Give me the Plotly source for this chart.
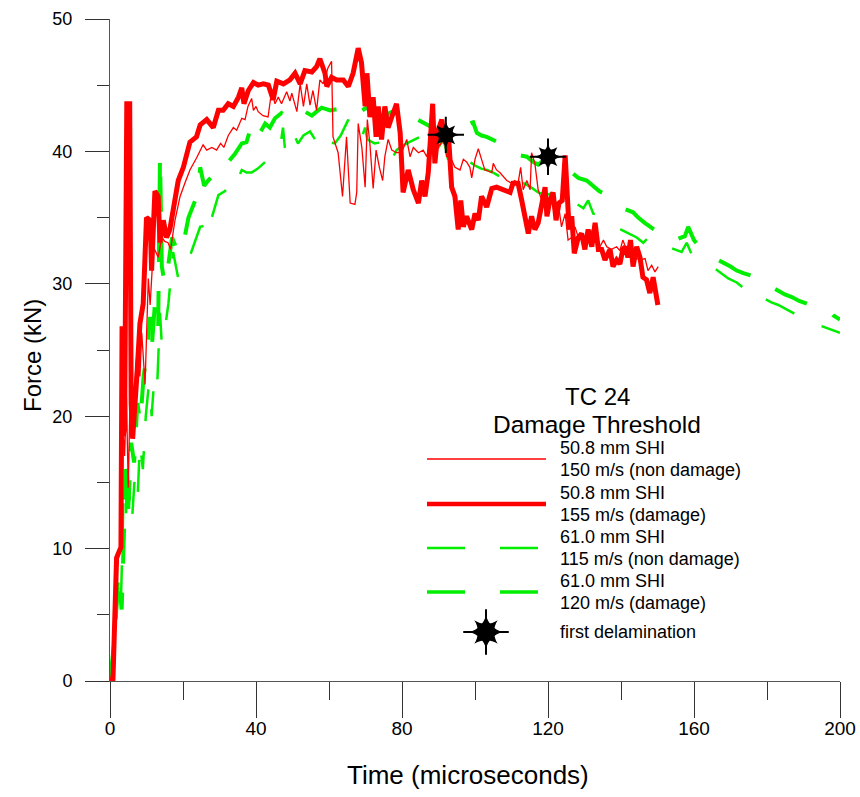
import plotly.graph_objects as go

# ---------------- data ----------------
# 50.8 mm SHI, 150 m/s (non damage)  -- thin red
r150_t = [0, 1, 2, 3, 3.5, 4, 4.5, 5, 5.5, 6.4, 7.3, 8.2, 8.7, 9.1, 9.6, 10.5, 11, 11.9, 13.2, 14.2, 15,
          15.9, 16.6, 17.8, 19.2, 20.5, 21.9, 23.7, 25.5, 26.5, 27.9, 29.2, 30.3, 31.2, 32.4, 33.8, 34.7,
          36.1, 37, 37.8, 38.8, 39.3, 40, 40.6, 41.9, 43.3, 44.3, 45.2, 46.1, 47, 48.4, 49.3, 49.8, 51.2,
          52.1, 53, 53.9, 54.8, 55.6, 56.6, 57.5, 58.4, 59.7, 60.7, 61.1, 62.5, 63.7, 64.8, 65.8, 67.1,
          67.6, 68, 69, 69.9, 70.5, 71.2, 72.1, 72.9, 73.8, 74.7, 75.3, 76.2, 77.2, 78.5, 79.9, 81.3, 82.2,
          83.1, 84.5, 85.8, 86.8, 87.7, 88.5, 89.5, 90.5, 91.5, 92.2, 93.2, 94.5, 95.9, 96.8, 97.7, 98.6,
          99.1, 100, 100.9, 101.8, 102.7, 103.7, 104.6, 105, 105.9, 106.8, 107.8, 108.7, 110, 110.9, 111.8,
          112.5, 113.2, 114.2, 115.1, 115.5, 116.4, 117.3, 118.3, 119.2, 120, 121, 121.9, 122.8, 123.7,
          124.7, 125.5, 126.5, 127.4, 128.3, 129.2, 130.1, 131.5, 132.4, 133.3, 134.2, 135.2, 136.1, 137.4,
          138.8, 139.7, 140.5, 141.5, 143.8, 145.2, 146.6, 147.4, 148.4, 149.3, 150.2]
r150_f = [0, 1, 8.5, 11, 19.5, 17, 21.5, 14.6, 21.5, 20.9, 24.5, 23, 26.3, 24.5, 22.4, 30.4, 28.4, 32.8, 32,
          33.5, 33.2, 33.1, 32.6, 34.8, 36.6, 37.6, 38.6, 39.5, 40.5, 40.1, 40.3, 40.1, 40.6, 40.3, 41.2,
          41.8, 41.6, 42.5, 42.4, 43.4, 44, 43.1, 43.4, 43, 42.7, 42.6, 44.6, 43.6, 44.1, 43.6, 44.5, 43.8,
          44.4, 43, 45.1, 43.4, 45.1, 43.5, 44.6, 43.1, 45.4, 45.1, 46.3, 46.8, 41.1, 39.9, 36.6, 41.1,
          36.1, 36, 36.9, 42.1, 40.3, 37.3, 42.4, 40.6, 37.2, 40.1, 38.8, 37.8, 39.6, 40.9, 40.1, 39.9,
          39.9, 40.9, 39.6, 40.3, 39.9, 40.1, 39.6, 40.9, 40.6, 40.3, 40.5, 41.2, 39.6, 39.6, 38.8, 38.6,
          39.4, 39.2, 38.8, 38, 39.4, 40.2, 39.4, 38.6, 38.5, 38.4, 39.1, 38.6, 38.4, 38.1, 37.8, 37.6,
          37.8, 37.6, 38.8, 37.1, 37.8, 37.1, 39.9, 39.1, 37.1, 36.3, 35.6, 35.3, 36.3, 35.1, 36.1, 34.3,
          35.3, 33.3, 33.5, 34.3, 33.5, 33.5, 33.1, 33.5, 34.3, 33.5, 32.8, 33.3, 32.8, 32.6, 32.8, 32.5,
          33.3, 32.6, 32, 31.8, 31.9, 31, 31.4, 30.9, 31.3]

# 50.8 mm SHI, 155 m/s (damage)  -- thick red
r155_t = [0, 0.8, 1.8, 3.0, 3.3, 3.6, 4.0, 4.6, 5.4, 5.8, 6.2, 6.6, 7.4, 8.2, 9.1, 10, 11, 11.4, 12.3, 13.2,
          13.7, 14.6, 15.5, 16.4, 17.8, 18.7, 20.1, 21.9, 23.7, 24.7, 26.5, 28.3, 29.7, 31, 32.4, 33.8,
          35.2, 36.1, 36.7, 37.9, 39.3, 40.6, 42, 43.4, 44.7, 45.7, 47.5, 49.3, 50.7, 52.1, 53.4, 55.3,
          56.6, 57.5, 58.9, 59.4, 60.7, 62.1, 63.9, 65.3, 66.6, 68, 68.9, 69.9, 70.4, 71.2, 72.1, 72.9,
          73.5, 74.4, 75.3, 76.2, 77.2, 78.5, 79.5, 80.3, 81.7, 83.1, 84.5, 85.4, 86.3, 87.2, 88.4, 89,
          89.9, 90.9, 91.8, 92.7, 93.6, 94.5, 95.4, 96.1, 96.8, 97.7, 99.1, 100, 100.9, 101.8, 103.2,
          104.6, 105.9, 107.8, 109.6, 110.4, 111.8, 112.8, 113.7, 114.6, 115.5, 116.4, 117.3, 118.3,
          119.2, 119.7, 120.5, 121.4, 122.2, 123, 123.9, 124.7, 125.3, 125.8, 126.5, 127.2, 128.3, 129.2,
          130.1, 131, 132, 132.9, 133.8, 134.7, 135.6, 137, 137.8, 138.8, 139.7, 140.5, 141.1, 141.9,
          142.6, 143.3, 144.3, 145.2, 146, 147, 147.9, 148.8, 150.1]
r155_f = [0, 0, 9.3, 10.1, 26.8, 18.5, 19, 43.6, 43.6, 21, 18.3, 20.5, 23.2, 27, 28.5, 35, 34.8, 31, 37,
          36.6, 33.1, 34.8, 33.5, 34.1, 36.6, 37.8, 38.8, 40.7, 41.1, 42, 42.4, 41.8, 43.1, 43.1, 43.6,
          43.4, 44.1, 44.8, 43.6, 44.6, 45.2, 45, 45.1, 45, 43.9, 45.3, 45.1, 45.4, 45.9, 45.1, 46.1, 46,
          46.4, 47, 45.9, 44.9, 45.6, 45.4, 45.4, 44.9, 45.9, 47.8, 46.7, 43.4, 45.9, 42.6, 44.1, 41.1,
          43.4, 40.9, 43.4, 41.8, 42.6, 43.6, 41.4, 36.9, 38.6, 37.1, 36.1, 37.8, 36.6, 38.4, 43.6, 39.1,
          41.6, 42.4, 40.6, 41.4, 37.3, 36.6, 34.1, 36.3, 34.3, 35.1, 34.1, 35.3, 34.8, 36.6, 35.8, 37.2,
          37.3, 37.1, 36.9, 37.6, 37.6, 36.3, 35.1, 33.8, 35.1, 34.1, 34.6, 35.8, 37.3, 35.1, 36.3, 36.9,
          34.8, 36.1, 36.3, 39.7, 37.1, 34.1, 35.1, 32.3, 33.5, 33.8, 32.6, 34.1, 32.8, 34.6, 32.6, 32.6,
          31.8, 32.6, 31.3, 31.8, 31.5, 32.6, 32.8, 32, 33.3, 31.3, 32.8, 32, 30.5, 30.3, 29.3, 30.5, 28.4]

# 61.0 mm SHI, 115 m/s (non damage)  -- thin green dashed
g115_t = [0, 0.8, 1.6, 2.4, 3, 3.7, 4.4, 4.6, 5.2, 6, 6.8, 7.6, 8.2, 9, 9.8, 10.5, 11, 11.4, 12.3, 13, 13.7,
          14.2, 15, 16, 17.3, 18.7, 20.1, 21.5, 23.3, 24.7, 26, 26.5, 27.9, 29.7, 31.5, 33.8, 34.7, 36.1,
          37.4, 38.8, 40.5, 42.5, 44.3, 46.6, 47.4, 47.9, 48.4, 49.8, 50.7, 51.5, 53, 54.8, 56.2, 57.1,
          58.4, 60, 61.6, 63.2, 65.3, 65.8, 67.6, 69, 69.9, 70.5, 72.5, 74.5, 76.7, 77.6, 78.5, 80, 82,
          84.9, 85.8, 86.8, 88.3, 90, 91.3, 92, 93, 94.1, 95.9, 97.3, 98.6, 100.2, 101.7, 103.3, 105,
          106.8, 108.2, 109.6, 111.3, 113.3, 115.3, 117.3, 119.6, 121.4, 123.3, 125.1, 127, 128.5, 129.7,
          131, 132.4, 134.2, 136, 138, 140, 141.5, 144.3, 146.1, 147.5, 148.8, 150.7, 152.7, 154.7, 156.6,
          158, 159.4, 161.6, 163.5, 165.5, 167.5, 169.4, 171.7, 173.5, 174.4, 175.3, 177.2, 179.2, 181.2,
          183.1, 187.2, 191.8, 194, 196, 198, 200]
g115_f = [0, 1.5, 4, 7.5, 6, 13.7, 12.2, 16.7, 14.3, 12, 15.5, 14, 18, 16, 20, 22, 22.4, 20, 23.5, 22.8,
          27.8, 25.4, 26.5, 28.5, 32.4, 30.4, 30.7, 31.8, 33.3, 34.3, 34.4, 35.7, 35, 36.7, 37, 38.1, 37.7,
          38.6, 38.4, 38.4, 38.7, 39.2, 39.5, 40.3, 41.8, 40.3, 39.7, 40.9, 41.1, 40.6, 41.2, 41.5, 40.9,
          41.6, 40.9, 40.7, 40.6, 41.2, 42.4, 41.4, 40.9, 41.1, 41.8, 40.9, 40.6, 40.7, 40.9, 39.6, 40.1,
          40.4, 40.7, 41.1, 40.3, 39.9, 40, 40.3, 40.9, 40.2, 38.9, 38.7, 38.7, 39, 39.2, 38.9, 38.7, 38.6,
          38.4, 38.1, 38.4, 37.8, 37.7, 37.6, 37.3, 36.9, 36.7, 36.9, 36.9, 36.6, 36.2, 35.9, 35.7, 36.3,
          35.3, 35.2, 34.8, 34.4, 34.1, 33.9, 33.5, 33.1, 33.5, 33, 32.9, 32.8, 32.6, 32.4, 33.1, 32.2,
          32, 31.6, 31.2, 30.8, 30.4, 30.1, 29.7, 29.9, 29.5, 29.2, 28.9, 28.6, 28.4, 27.8, 27.1, 26.9,
          26.7, 26.5, 26.3]

# 61.0 mm SHI, 120 m/s (damage)  -- thick green dashed
g120_t = [0, 1, 2.3, 3.2, 3.8, 4.4, 5, 5.8, 6.6, 7.5, 8.3, 9.2, 10, 11, 11.4, 12.3, 13.2, 13.7, 14.2, 15, 16,
          17, 18, 19.6, 21.5, 23, 24.2, 24.7, 25.8, 26.9, 27.9, 28.8, 30.1, 32.4, 34.2, 36.1, 37.4, 38.8,
          40.2, 41.5, 42.5, 43.8, 45.2, 47, 48.4, 50, 51.5, 52.8, 53.9, 55.3, 56.6, 58, 60.3, 62.5, 64.8,
          66.7, 68.5, 70.3, 72, 74, 76, 78, 79.9, 81, 82.2, 83.6, 85, 87, 89, 90.8, 92.7, 94.1, 95.4, 97,
          98.5, 99.5, 100.5, 101.8, 103.2, 105, 107, 108.8, 110.5, 112.3, 114.2, 116, 117.3, 118.7, 120,
          121.5, 123.3, 125.1, 126.5, 128.3, 130.6, 132.3, 134, 135.5, 137, 139.3, 140.6, 143.3, 144.7,
          146.5, 148.5, 150.3, 152.1, 153.4, 154.8, 157.5, 158.4, 160, 162, 163.9, 166.2, 168, 170, 171.7,
          173.5, 175.5, 177.2, 179, 181.7, 184.9, 186.8, 188.8, 191, 193.2, 195.4, 197.3, 198.2, 200]
g120_f = [0, 2.5, 8.2, 5.4, 11, 16, 13, 18, 16.5, 21, 19.5, 23, 24.5, 27.5, 25, 28.5, 26.7, 39.7, 31.3, 30,
          31.5, 33.5, 32.8, 32.3, 35, 36, 36.9, 38.8, 37.4, 37.8, 38.1, 38.8, 38.7, 39.2, 39.8, 40.6, 40.7,
          42, 41.1, 41.6, 42.1, 41.8, 42.5, 42.9, 42.6, 43, 42.8, 43.1, 42.9, 42.7, 43, 43.3, 43.1, 43.2,
          43.5, 43.1, 43, 43.3, 43, 42.6, 42.8, 43.1, 43.1, 43, 42.7, 42.5, 42.3, 42, 41.7, 41.3, 41.6,
          41.8, 41.4, 41.6, 42.1, 42.2, 41.4, 41.2, 41.1, 40.9, 40.6, 40.3, 40.1, 39.7, 39.6, 39.2, 39,
          39.3, 39.6, 39.1, 38.7, 38.6, 38.4, 38, 37.8, 37.4, 37, 36.8, 36.5, 36, 35.7, 35.4, 35, 34.6,
          34.2, 33.8, 33.5, 33.6, 33.3, 33.6, 34.3, 33.3, 32.6, 32.2, 31.9, 31.6, 31.3, 31, 30.8, 30.6,
          30.5, 30.4, 29.7, 29.2, 29, 28.7, 28.5, 28.2, 28, 27.9, 27.6, 27.3]

# first delamination points
delam_t = [92.0, 120.0]
delam_f = [41.25, 39.6]

# axis ticks
x_ticks = [0, 40, 80, 120, 160, 200]
y_ticks = [0, 10, 20, 30, 40, 50]

legend_title = ["TC 24", "Damage Threshold"]
legend_labels = [("50.8 mm SHI", "150 m/s (non damage)"),
                 ("50.8 mm SHI", "155 m/s (damage)"),
                 ("61.0 mm SHI", "115 m/s (non damage)"),
                 ("61.0 mm SHI", "120 m/s (damage)")]
legend_star_label = "first delamination"

# ---------------- styles ----------------
RED = "#ff0000"
GREEN = "#00ee00"
FONT = "Liberation Sans, Arial, sans-serif"

fig = go.Figure()

fig.add_trace(go.Scatter(x=g120_t, y=g120_f, mode="lines",
                         line=dict(color=GREEN, width=4, dash="35px,29px"), showlegend=False))
fig.add_trace(go.Scatter(x=g115_t, y=g115_f, mode="lines",
                         line=dict(color=GREEN, width=2.5, dash="32px,30px"), showlegend=False))
fig.add_trace(go.Scatter(x=r150_t, y=r150_f, mode="lines",
                         line=dict(color=RED, width=1.3), showlegend=False))
fig.add_trace(go.Scatter(x=r155_t, y=r155_f, mode="lines",
                         line=dict(color=RED, width=5), showlegend=False))


def add_star(xs, ys, scale=1.0, xa="x", ya="y"):
    for sym, size, lw in [("star-diamond", 19, 0), ("star-square", 17, 0), ("cross-thin-open", 26, 2)]:
        fig.add_trace(go.Scatter(
            x=xs, y=ys, mode="markers", xaxis=xa, yaxis=ya, showlegend=False, cliponaxis=False,
            marker=dict(symbol=sym, size=size * scale, color="black",
                        line=dict(color="black", width=lw))))


add_star(delam_t, delam_f)

# ---------------- custom legend (plot-area fractions) ----------------
def px2fx(px):
    return (px - 110) / 730.0


def py2fy(py):
    return (681 - py) / 662.0


sample_x0, sample_x1 = px2fx(427), px2fx(546)
sample_styles = [dict(color=RED, width=1.5),
                 dict(color=RED, width=4.5),
                 dict(color=GREEN, width=2.3, dash="38px,35px"),
                 dict(color=GREEN, width=3.3, dash="38px,35px")]
sample_y = [459, 504, 548, 592]
text_y = [(448, 470), (493, 515), (537, 559), (581, 603)]

LEG = 18
shapes = []
annotations = []
for st, sy in zip(sample_styles, sample_y):
    shapes.append(dict(type="line", xref="paper", yref="paper", x0=sample_x0, x1=sample_x1,
                       y0=py2fy(sy), y1=py2fy(sy), line=st))
for (l1, l2), (y1, y2) in zip(legend_labels, text_y):
    for txt, yy in [(l1, y1), (l2, y2)]:
        annotations.append(dict(text=txt, xref="paper", yref="paper", x=px2fx(558), y=py2fy(yy),
                                xanchor="left", yanchor="middle", showarrow=False,
                                font=dict(family=FONT, size=LEG, color="black")))
annotations.append(dict(text=legend_star_label, xref="paper", yref="paper", x=px2fx(558), y=py2fy(632),
                        xanchor="left", yanchor="middle", showarrow=False,
                        font=dict(family=FONT, size=LEG, color="black")))
annotations.append(dict(text=legend_title[0], xref="paper", yref="paper", x=px2fx(597), y=py2fy(396),
                        xanchor="center", yanchor="middle", showarrow=False,
                        font=dict(family=FONT, size=24, color="black")))
annotations.append(dict(text=legend_title[1], xref="paper", yref="paper", x=px2fx(597), y=py2fy(424),
                        xanchor="center", yanchor="middle", showarrow=False,
                        font=dict(family=FONT, size=24.5, color="black")))
# axis titles
annotations.append(dict(text="Force (kN)", xref="paper", yref="paper", x=px2fx(32), y=py2fy(356),
                        xanchor="center", yanchor="middle", textangle=-90, showarrow=False,
                        font=dict(family=FONT, size=24, color="black")))
annotations.append(dict(text="Time (microseconds)", xref="paper", yref="paper", x=px2fx(468), y=py2fy(775),
                        xanchor="center", yanchor="middle", showarrow=False,
                        font=dict(family=FONT, size=26, color="black")))

# legend star on overlay axes in plot-area fractions
add_star([px2fx(486)], [py2fy(632)], scale=1.25, xa="x2", ya="y2")

fig.update_layout(
    width=860, height=797,
    margin=dict(l=110, r=20, t=19, b=116),
    paper_bgcolor="white", plot_bgcolor="white",
    showlegend=False,
    shapes=shapes, annotations=annotations,
    xaxis=dict(range=[0, 200], tickvals=x_ticks, ticktext=[str(v) for v in x_ticks],
               automargin=False, ticklabelstandoff=-6,
               showgrid=False, zeroline=False, showline=True, linecolor="#555", linewidth=1,
               ticks="outside", ticklen=36, tickwidth=1, tickcolor="#333",
               tickfont=dict(family=FONT, size=19, color="black"),
               minor=dict(dtick=20, tick0=0, ticks="outside", ticklen=18, tickwidth=1, tickcolor="#333",
                          showgrid=False)),
    yaxis=dict(range=[0, 50], tickvals=y_ticks, ticktext=[str(v) for v in y_ticks],
               automargin=False, ticklabelstandoff=9,
               showgrid=False, zeroline=False, showline=True, linecolor="#555", linewidth=1,
               ticks="outside", ticklen=24, tickwidth=1, tickcolor="#333",
               tickfont=dict(family=FONT, size=18, color="black"),
               minor=dict(dtick=5, tick0=0, ticks="outside", ticklen=12, tickwidth=1, tickcolor="#333",
                          showgrid=False)),
    xaxis2=dict(overlaying="x", range=[0, 1], visible=False, anchor="y2"),
    yaxis2=dict(overlaying="y", range=[0, 1], visible=False, anchor="x2"),
)

fig.write_html("out.html")
